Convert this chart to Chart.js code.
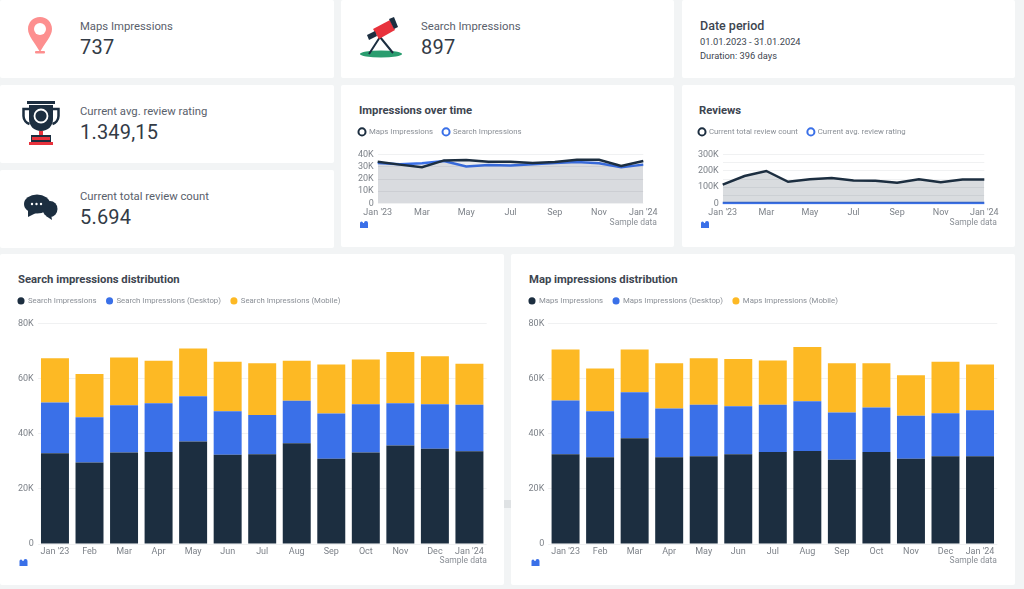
<!DOCTYPE html>
<html>
<head>
<meta charset="utf-8">
<script src="https://cdn.jsdelivr.net/npm/chart.js@4"></script>
<style>
  html, body { margin: 0; padding: 0; width: 1024px; height: 589px; overflow: hidden; background: #f2f4f5; font-family: Roboto, sans-serif; }
  .card { position: absolute; background: #fff; border-radius: 2px; }
  .card canvas { position: absolute; left: 0; }
  .title { position: absolute; font-size: 11.3px; font-weight: 700; color: #3d4550; white-space: nowrap; }
  .kpi-label { position: absolute; left: 80px; top: 20px; font-size: 11.3px; color: #59606b; white-space: nowrap; }
  .kpi-value { position: absolute; left: 80px; top: 35px; font-size: 20px; color: #333b46; letter-spacing: .2px; white-space: nowrap; }
  .icon { position: absolute; }
  .sample { position: absolute; font-size: 8.5px; color: #8a8f96; white-space: nowrap; }
  .handle { position: absolute; left: 504px; top: 500px; width: 7px; height: 8px; background: #dfe2e4; }
</style>
</head>
<body>

<div class="card" style="left:0;top:0;width:334px;height:78px">
  <svg class="icon" style="left:27px;top:16px" width="26" height="39" viewBox="0 0 26 39">
    <path d="M13 1C6 1 1 6.500 1 13c0 7 7 14 12 23 5-9 12-16 12-23C25 6.500 20 1 13 1z" fill="#fd8f8f"/>
    <circle cx="13" cy="13" r="6" fill="#fff"/>
    <rect x="8" y="35" width="10" height="2.500" rx="1" fill="#fd8f8f"/>
  </svg>
  <div class="kpi-label">Maps Impressions</div>
  <div class="kpi-value">737</div>
</div>

<div class="card" style="left:341px;top:0;width:333px;height:78px">
  <svg class="icon" style="left:18px;top:16px" width="44" height="44" viewBox="0 0 44 44">
    <ellipse cx="22" cy="38" rx="21" ry="3.500" fill="#2a9d6f"/>
    <path d="M21 21L10 38M21 21l13 16" stroke="#1c2e40" stroke-width="2" fill="none"/>
    <path d="M14 13L31 4l5 10-16 9z" fill="#e8323c"/>
    <path d="M8 19l8-4 2 5-8 4z" fill="#1c2e40"/>
    <path d="M30 3l5-2 4 10-4 2z" fill="#1c2e40"/>
  </svg>
  <div class="kpi-label">Search Impressions</div>
  <div class="kpi-value">897</div>
</div>

<div class="card" style="left:682px;top:0;width:333px;height:78px">
  <div style="position:absolute;left:18px;top:18px;font-size:12.500px;color:#3d4550;font-weight:500">Date period</div>
  <div style="position:absolute;left:18px;top:36px;font-size:9.300px;color:#3d4550">01.01.2023 - 31.01.2024</div>
  <div style="position:absolute;left:18px;top:50px;font-size:9.300px;color:#3d4550">Duration: 396 days</div>
</div>

<div class="card" style="left:0;top:85px;width:334px;height:78px">
  <svg class="icon" style="left:22px;top:16px" width="38" height="46" viewBox="0 0 38 46">
    <rect x="5" y="0" width="28" height="3" fill="#1c2e40"/>
    <path d="M7 4h24v14c0 7-5 12-12 12S7 25 7 18z" fill="#1c2e40"/>
    <path d="M7 8H1.500v7c0 4 3 7 6 8M31 8h5.500v7c0 4-3 7-6 8" stroke="#1c2e40" stroke-width="2.500" fill="none"/>
    <circle cx="19" cy="15" r="6.500" fill="none" stroke="#fff" stroke-width="1.800"/>
    <rect x="17" y="30" width="4" height="4" fill="#e8323c"/>
    <rect x="9" y="34" width="20" height="7" fill="#1c2e40"/>
    <rect x="10" y="36" width="18" height="3" fill="#e8323c"/>
    <rect x="7" y="41" width="24" height="3" fill="#e8323c"/>
  </svg>
  <div class="kpi-label">Current avg. review rating</div>
  <div class="kpi-value">1.349,15</div>
</div>

<div class="card" style="left:0;top:170px;width:334px;height:78px">
  <svg class="icon" style="left:24px;top:24px" width="34" height="27" viewBox="0 0 34 27">
    <ellipse cx="26" cy="15" rx="7.500" ry="8" fill="#1c2e40"/>
    <path d="M27 20l1 6-6-4z" fill="#1c2e40"/>
    <ellipse cx="13" cy="10" rx="13" ry="9.500" fill="#1c2e40"/>
    <path d="M4 16l0 7 8-4z" fill="#1c2e40"/>
    <circle cx="8" cy="10" r="1.200" fill="#fff"/><circle cx="12.500" cy="10" r="1.200" fill="#fff"/><circle cx="17" cy="10" r="1.200" fill="#fff"/>
  </svg>
  <div class="kpi-label">Current total review count</div>
  <div class="kpi-value">5.694</div>
</div>

<div class="card" style="left:341px;top:85px;width:333px;height:162px">
  <div class="title" style="left:18px;top:19px">Impressions over time</div>
  <canvas id="impressionsChart" width="333" height="100" style="top:33px"></canvas>
  <svg class="icon" style="left:19px;top:135px" width="8" height="8" viewBox="0 0 8 8"><path d="M0 3a1.500 1.500 0 0 1 3 0h1a2 2 0 0 1 4 0v5H0z" fill="#3a70e8"/></svg>
  <div class="sample" style="right:17px;top:132px">Sample data</div>
</div>

<div class="card" style="left:682px;top:85px;width:333px;height:162px">
  <div class="title" style="left:17px;top:19px">Reviews</div>
  <canvas id="reviewsChart" width="333" height="100" style="top:33px"></canvas>
  <svg class="icon" style="left:19px;top:135px" width="8" height="8" viewBox="0 0 8 8"><path d="M0 3a1.500 1.500 0 0 1 3 0h1a2 2 0 0 1 4 0v5H0z" fill="#3a70e8"/></svg>
  <div class="sample" style="right:18px;top:132px">Sample data</div>
</div>

<div class="card" style="left:0;top:254px;width:504px;height:331px">
  <div class="title" style="left:18px;top:19px">Search impressions distribution</div>
  <canvas id="searchChart" width="504" height="270" style="top:33px"></canvas>
  <svg class="icon" style="left:19px;top:304px" width="9" height="8" viewBox="0 0 8 8"><path d="M0 3a1.500 1.500 0 0 1 3 0h1a2 2 0 0 1 4 0v5H0z" fill="#3a70e8"/></svg>
  <div class="sample" style="right:17px;top:301px">Sample data</div>
</div>

<div class="card" style="left:511px;top:254px;width:504px;height:331px">
  <div class="title" style="left:18px;top:19px">Map impressions distribution</div>
  <canvas id="mapsChart" width="504" height="270" style="top:33px"></canvas>
  <svg class="icon" style="left:20px;top:304px" width="9" height="8" viewBox="0 0 8 8"><path d="M0 3a1.500 1.500 0 0 1 3 0h1a2 2 0 0 1 4 0v5H0z" fill="#3a70e8"/></svg>
  <div class="sample" style="right:18px;top:301px">Sample data</div>
</div>
<div class="handle"></div>

<script>
const months = ["Jan '23", 'Feb', 'Mar', 'Apr', 'May', 'Jun', 'Jul', 'Aug', 'Sep', 'Oct', 'Nov', 'Dec', "Jan '24"];

const mapsOverTime = [34300, 31900, 29700, 35400, 35700, 34300, 34300, 33200, 34000, 35900, 35900, 30800, 34900];
const searchOverTime = [33200, 32200, 33000, 34900, 30300, 31600, 31100, 32200, 33200, 34100, 33000, 29700, 31900];

const reviewCount = [116000, 169000, 200000, 133000, 149000, 157000, 141000, 139000, 127000, 149000, 131000, 147000, 147000];
const reviewRating = [1350, 1340, 1360, 1350, 1345, 1350, 1350, 1345, 1350, 1350, 1345, 1350, 1349];

const searchTotal = [33000, 29600, 33200, 33450, 37200, 32400, 32600, 36600, 31000, 33200, 35750, 34650, 33700];
const searchDesktop = [18400, 16450, 17200, 17700, 16500, 15850, 14300, 15400, 16400, 17600, 15400, 16150, 16850];
const searchMobile = [16100, 15750, 17350, 15400, 17300, 17950, 18800, 14550, 17800, 16200, 18650, 17450, 14900];

const mapsTotal = [32600, 31500, 38400, 31500, 31900, 32600, 33450, 33800, 30650, 33450, 31000, 31900, 31900];
const mapsDesktop = [19500, 16750, 16750, 17700, 18650, 17450, 17100, 18050, 17100, 16100, 15550, 15600, 16700];
const mapsMobile = [18550, 15500, 15500, 16500, 16950, 17200, 16100, 19750, 17950, 16150, 14800, 18700, 16600];

const NAVY = '#1c2e40', BLUE = '#3a70e8', YELLOW = '#fdb924', TICK = '#7d8289', GRID = '#f0f1f2';

Chart.defaults.font.family = 'Roboto, sans-serif';
Chart.defaults.animation = false;

// pushes the plot down below the legend
const legendGap = {
  id: 'legendGap',
  beforeInit(chart, args, opts) {
    const fit = chart.legend.fit;
    chart.legend.fit = function () {
      fit.call(this);
      this.height += opts.gap;
    };
  }
};

const shortK = v => v === 0 ? '0' : (v / 1000) + 'K';

function baseOptions(box, ring) {
  return {
    responsive: false,
    layout: { padding: { left: box.left, right: box.right, top: 0, bottom: 0 } },
    plugins: {
      tooltip: { enabled: false },
      legendGap: { gap: box.gap },
      legend: {
        align: 'start',
        labels: {
          usePointStyle: true,
          boxWidth: 6,
          boxHeight: 5,
          padding: 10,
          color: '#8a8f96',
          font: { size: 7.8 },
          generateLabels(chart) {
            return Chart.defaults.plugins.legend.labels.generateLabels(chart).map(item => {
              item.pointStyle = 'circle';
              if (ring) { item.fillStyle = '#fff'; item.lineWidth = 2; }
              return item;
            });
          }
        }
      }
    },
    scales: {
      x: {
        grid: { display: false, drawTicks: false },
        border: { display: false },
        afterFit(scale) { scale.height = box.xHeight; },
        ticks: { color: TICK, font: { size: 9 }, padding: box.xPad, maxRotation: 0, autoSkip: false }
      },
      y: {
        beginAtZero: true,
        grid: { color: GRID, drawTicks: false },
        border: { display: false },
        afterFit(scale) { scale.width = box.yWidth; },
        ticks: { color: TICK, font: { size: 9 }, padding: 4, autoSkip: false, callback: shortK }
      }
    }
  };
}

function lineChart(id, sets, box, max, step, tickFn) {
  const options = baseOptions(box, true);
  options.scales.y.max = max;
  options.scales.y.ticks.stepSize = step;
  options.scales.y.ticks.callback = tickFn;
  options.scales.x.offset = false;
  options.scales.x.ticks.callback = (v, i) => i % 2 ? '' : months[i];
  new Chart(document.getElementById(id), {
    type: 'line',
    data: { labels: months, datasets: sets },
    options: options,
    plugins: [legendGap]
  });
}

function barChart(id, names, values, box) {
  const colors = [NAVY, BLUE, YELLOW];
  const options = baseOptions(box, false);
  options.scales.x.stacked = true;
  options.scales.y.stacked = true;
  options.scales.y.max = 80000;
  options.scales.y.ticks.stepSize = 20000;
  new Chart(document.getElementById(id), {
    type: 'bar',
    data: {
      labels: months,
      datasets: names.map((name, i) => ({
        label: name,
        data: values[i],
        backgroundColor: colors[i],
        borderWidth: 0,
        barPercentage: 0.81,
        categoryPercentage: 1
      }))
    },
    options: options,
    plugins: [legendGap]
  });
}

lineChart('impressionsChart', [
  { label: 'Maps Impressions', data: mapsOverTime, borderColor: NAVY, backgroundColor: 'rgba(28,46,64,0.09)', borderWidth: 2.5, pointRadius: 0, fill: 'origin', tension: 0 },
  { label: 'Search Impressions', data: searchOverTime, borderColor: BLUE, backgroundColor: 'rgba(28,46,64,0.09)', borderWidth: 2.5, pointRadius: 0, fill: 'origin', tension: 0 }
], { left: 8, right: 30.7, gap: 9, xHeight: 14.7, yWidth: 28.7, xPad: 4 }, 40000, 10000, shortK);

lineChart('reviewsChart', [
  { label: 'Current total review count', data: reviewCount, borderColor: NAVY, backgroundColor: 'rgba(28,46,64,0.17)', borderWidth: 2.5, pointRadius: 0, fill: 'origin', tension: 0 },
  { label: 'Current avg. review rating', data: reviewRating, borderColor: BLUE, backgroundColor: 'rgba(0,0,0,0)', borderWidth: 2.5, pointRadius: 0, fill: false, tension: 0 }
], { left: 7, right: 30.7, gap: 9, xHeight: 14.7, yWidth: 33.7, xPad: 4 }, 300000, 50000, v => v % 100000 ? '' : shortK(v));

barChart('searchChart',
  ['Search Impressions', 'Search Impressions (Desktop)', 'Search Impressions (Mobile)'],
  [searchTotal, searchDesktop, searchMobile],
  { left: 8, right: 17.3, gap: 9, xHeight: 13, yWidth: 29.7, xPad: 2 });

barChart('mapsChart',
  ['Maps Impressions', 'Maps Impressions (Desktop)', 'Maps Impressions (Mobile)'],
  [mapsTotal, mapsDesktop, mapsMobile],
  { left: 8, right: 17.7, gap: 9, xHeight: 13, yWidth: 29.3, xPad: 2 });
</script>
</body>
</html>
